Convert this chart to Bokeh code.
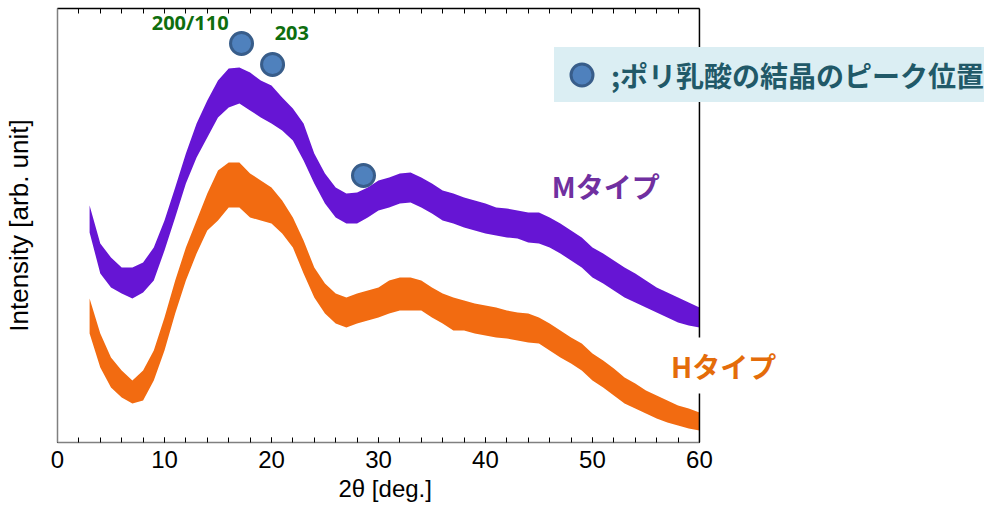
from bokeh.plotting import figure
from bokeh.models import (Range1d, LinearAxis, FixedTicker, Label, Legend, LegendItem,
                          ColumnDataSource, Span, Title)
from bokeh.embed import file_html
from bokeh.resources import INLINE

# ---- data (intensity in arbitrary units) ----
two_theta = list(range(3, 61))

m_upper = [237, 199, 185, 175, 175, 180, 195, 222, 255, 289, 319, 342, 362, 374, 375,
           370, 362, 357, 345, 334, 319, 289, 269, 255, 249, 250, 255, 262, 265, 269,
           270, 265, 259, 252, 249, 245, 242, 239, 235, 234, 232, 230, 230, 225, 219,
           212, 205, 195, 189, 182, 175, 169, 162, 155, 150, 145, 140, 135]
m_lower = [210, 169, 155, 149, 144, 150, 162, 192, 225, 259, 285, 305, 325, 335, 339,
           332, 325, 319, 312, 302, 282, 259, 239, 225, 219, 219, 225, 232, 235, 239,
           240, 235, 229, 222, 219, 215, 212, 209, 207, 205, 204, 200, 199, 195, 189,
           182, 175, 165, 159, 152, 145, 140, 135, 130, 125, 120, 117, 115]
h_upper = [144, 109, 85, 72, 62, 72, 92, 125, 162, 195, 222, 249, 272, 280, 280,
           269, 262, 255, 242, 225, 202, 175, 159, 149, 145, 149, 152, 155, 162, 165,
           165, 162, 155, 149, 145, 142, 139, 137, 135, 132, 130, 129, 125, 119, 112,
           105, 99, 89, 82, 74, 65, 59, 52, 47, 42, 37, 34, 30]
h_lower = [109, 75, 55, 45, 39, 42, 62, 92, 129, 162, 189, 212, 222, 235, 235,
           225, 222, 219, 209, 195, 169, 145, 129, 119, 115, 119, 122, 125, 129, 132,
           132, 132, 125, 119, 112, 112, 109, 107, 105, 104, 102, 100, 99, 92, 85,
           79, 72, 62, 55, 47, 39, 34, 29, 24, 20, 17, 14, 12]

peak_x = [17.2, 20.1, 28.6]
peak_y = [399, 378, 267]
peak_labels = ["200/110", "203"]

x_ticks = [0, 10, 20, 30, 40, 50, 60]
x_minor = list(range(0, 61, 2))
x_min, x_max = 0, 60

PURPLE = "#6615D4"
ORANGE = "#F26B11"

# frame spans the whole width to the right so the labels/legend beyond x=60 are not clipped
p = figure(width=995, height=512, x_range=Range1d(0, 87.67), y_range=Range1d(0, 434),
           output_backend="svg", toolbar_location=None,
           x_axis_location=None, y_axis_location=None,
           min_border_left=54, min_border_right=0, min_border_top=8, min_border_bottom=70)
p.outline_line_color = None
p.xgrid.visible = False
p.ygrid.visible = False
p.background_fill_color = "white"
p.border_fill_color = "white"

src = ColumnDataSource(dict(x=two_theta, mu=m_upper, ml=m_lower, hu=h_upper, hl=h_lower))
p.varea(x="x", y1="ml", y2="mu", source=src, fill_color=PURPLE)
p.varea(x="x", y1="hl", y2="hu", source=src, fill_color=ORANGE)

peaks = p.scatter(peak_x, peak_y, size=22, marker="circle", fill_color="#4F81BD",
                  line_color="#385D8A", line_width=3)


def style_x(ax, color):
    ax.bounds = (x_min, x_max)
    ax.axis_line_color = color
    ax.axis_line_width = 1.5
    ax.major_tick_in = 5
    ax.major_tick_out = 0
    ax.minor_tick_in = 5
    ax.minor_tick_out = 0
    ax.major_tick_line_color = "black"
    ax.minor_tick_line_color = "black"


xb = LinearAxis(ticker=FixedTicker(ticks=x_ticks, minor_ticks=x_minor))
style_x(xb, "#808080")
xb.major_label_text_font = "Liberation Sans"
xb.major_label_text_font_size = "24px"
xb.major_label_text_color = "black"
xb.major_label_standoff = 8
p.add_layout(xb, "below")

# x-axis title, centred under the 0-60 axis (the frame itself extends further right)
p.add_layout(Title(text="2θ [deg.]", align="left", offset=281, standoff=5,
                   text_font="Liberation Sans", text_font_size="24px",
                   text_font_style="normal", text_color="black"), "below")

xt = LinearAxis(ticker=FixedTicker(ticks=[], minor_ticks=x_minor))
style_x(xt, "black")
p.add_layout(xt, "above")

yl = LinearAxis(ticker=FixedTicker(ticks=[]), axis_label="Intensity [arb. unit]")
yl.axis_line_color = "#808080"
yl.axis_line_width = 1.5
yl.axis_label_text_font = "Liberation Sans"
yl.axis_label_text_font_size = "26px"
yl.axis_label_text_font_style = "normal"
yl.axis_label_text_color = "black"
yl.axis_label_standoff = 24
p.add_layout(yl, "left")

# right-hand frame line at x = 60
p.add_layout(Span(location=x_max, dimension="height", line_color="black", line_width=1.5))

GREEN = "#0E6E0E"
p.add_layout(Label(x=12.4, y=420, text=peak_labels[0], text_align="center",
                   text_baseline="middle", text_font="Open Sans", text_font_style="bold",
                   text_font_size="20px", text_color=GREEN))
p.add_layout(Label(x=21.9, y=410, text=peak_labels[1], text_align="center",
                   text_baseline="middle", text_font="Open Sans", text_font_style="bold",
                   text_font_size="20px", text_color=GREEN))

p.add_layout(Label(x=46.2, y=257, text="Mタイプ", text_align="left", text_baseline="middle",
                   text_font="Noto Sans CJK JP", text_font_style="bold",
                   text_font_size="28px", text_color="#7030A0"))
p.add_layout(Label(x=56.6, y=77, text="Hタイプ", text_align="left", text_baseline="middle",
                   text_font="Noto Sans CJK JP", text_font_style="bold",
                   text_font_size="28px", text_color="#E46C0A",
                   background_fill_color="white", padding=8))

legend = Legend(items=[LegendItem(label=";ポリ乳酸の結晶のピーク位置", renderers=[peaks])],
                location=(497, 340), background_fill_color="#DBEEF3",
                background_fill_alpha=1.0, border_line_color=None,
                label_text_font="Noto Sans CJK JP", label_text_font_style="bold",
                label_text_font_size="28px", label_text_color="#215968",
                glyph_width=55, glyph_height=55, padding=0, margin=0, spacing=0,
                label_standoff=2)
p.add_layout(legend)

open("out.html", "w").write(file_html(p, INLINE))
